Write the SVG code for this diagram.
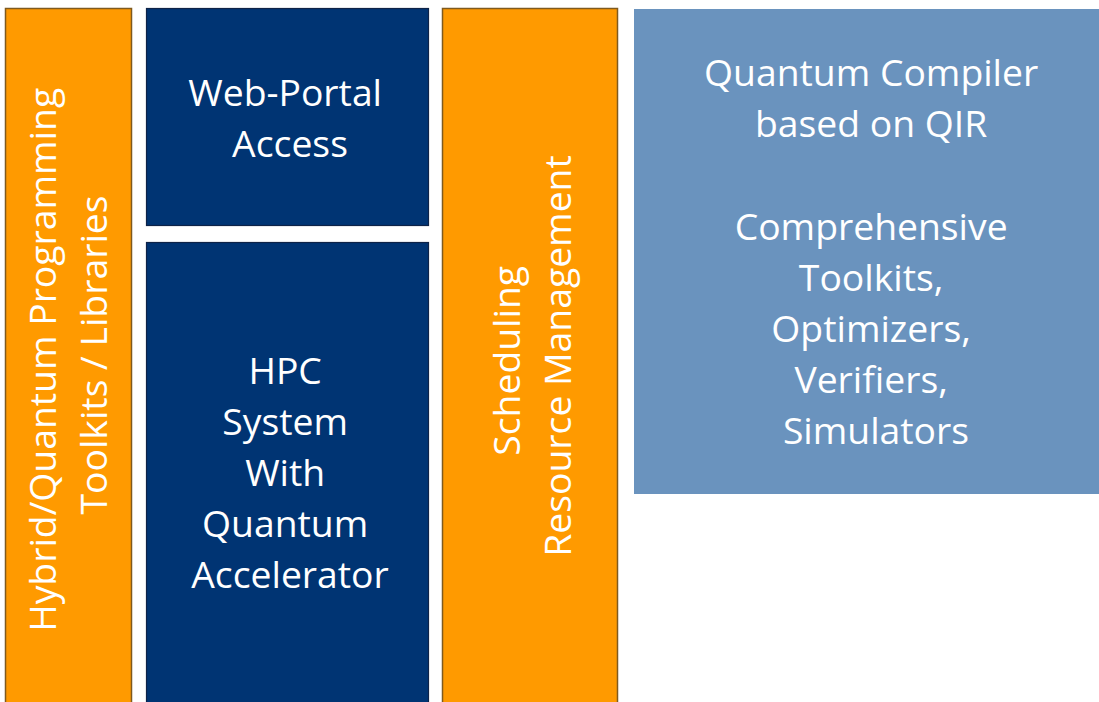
<svg xmlns="http://www.w3.org/2000/svg" width="1099" height="702" viewBox="0 0 1099 702">
  <style>
    .orange { fill: #FF9A00; stroke: #7F5A1E; stroke-width: 1.5; }
    .navy { fill: #003473; stroke: #0E2347; stroke-width: 1.2; }
    .steel { fill: #6A93BE; }
    .label { font-family: "Open Sans", "Liberation Sans", sans-serif; font-size: 37.3px; fill: #FFFFFF; text-anchor: middle; }
  </style>
  <rect x="0" y="0" width="1099" height="702" fill="#FFFFFF"/>

  <!-- Programming toolkits column -->
  <g id="toolkits">
    <rect class="orange" x="5.5" y="8.5" width="126" height="710"/>
    <text class="label" transform="translate(56,355) rotate(-90)">
      <tspan x="0" y="0">Hybrid/Quantum Programming</tspan>
      <tspan x="0" y="51">Toolkits / Libraries</tspan>
    </text>
  </g>

  <!-- Portal access -->
  <g id="web-portal">
    <rect class="navy" x="146.5" y="8.5" width="282" height="217"/>
    <text class="label">
      <tspan x="290" y="106">Web-Portal</tspan>
      <tspan x="290" y="157">Access</tspan>
    </text>
  </g>

  <!-- HPC system -->
  <g id="hpc-system">
    <rect class="navy" x="146.5" y="242.5" width="282" height="480"/>
    <text class="label">
      <tspan x="290" y="384">HPC</tspan>
      <tspan x="290" y="435">System</tspan>
      <tspan x="290" y="486">With</tspan>
      <tspan x="290" y="537">Quantum</tspan>
      <tspan x="290" y="588">Accelerator</tspan>
    </text>
  </g>

  <!-- Scheduling column -->
  <g id="scheduling">
    <rect class="orange" x="442.5" y="8.5" width="175" height="710"/>
    <text class="label" transform="translate(520,356) rotate(-90)">
      <tspan x="0" y="0">Scheduling</tspan>
      <tspan x="0" y="51">Resource Management</tspan>
    </text>
  </g>

  <!-- Compiler panel -->
  <g id="compiler">
    <rect class="steel" x="634" y="9" width="480" height="485"/>
    <text class="label">
      <tspan x="876" y="86">Quantum Compiler</tspan>
      <tspan x="876" y="137">based on QIR</tspan>
      <tspan x="876" y="240">Comprehensive</tspan>
      <tspan x="876" y="291">Toolkits,</tspan>
      <tspan x="876" y="342">Optimizers,</tspan>
      <tspan x="876" y="393">Verifiers,</tspan>
      <tspan x="876" y="444">Simulators</tspan>
    </text>
  </g>

  <g id="connectors"></g>
</svg>
